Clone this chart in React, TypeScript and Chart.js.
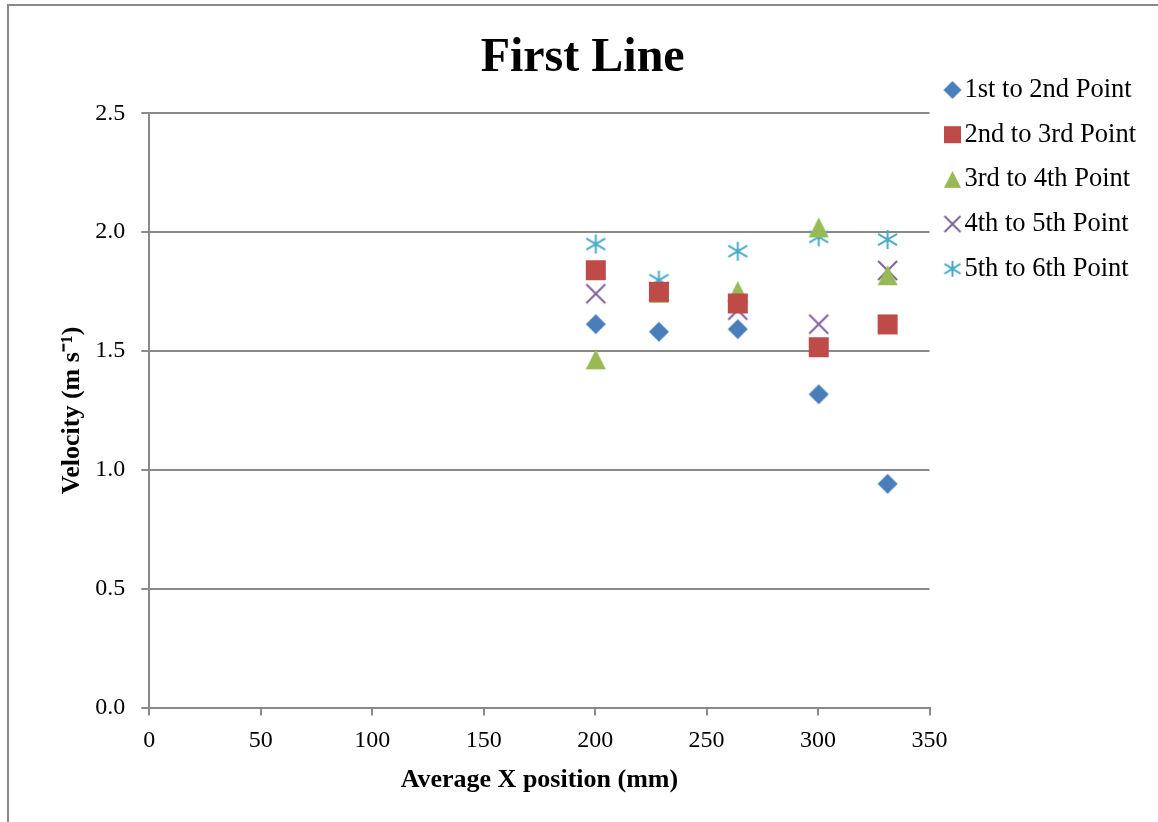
import React, { useEffect, useRef } from 'react';
import { Chart, registerables } from 'chart.js';

Chart.register(...registerables);

// ---- Data ----
const chartTitle = 'First Line';
const xAxisTitle = 'Average X position (mm)';
const yAxisTitle = 'Velocity (m s⁻¹)';

const xPositions = [200.3, 228.6, 264.0, 300.3, 331.2];
const seriesLabels = [
  '1st to 2nd Point',
  '2nd to 3rd Point',
  '3rd to 4th Point',
  '4th to 5th Point',
  '5th to 6th Point',
];
const firstToSecond = [1.613, 1.581, 1.592, 1.318, 0.941];
const secondToThird = [1.84, 1.749, 1.7, 1.516, 1.612];
const thirdToFourth = [1.465, 1.745, 1.752, 2.02, 1.819];
const fourthToFifth = [1.741, 1.75, 1.672, 1.613, 1.839];
const fifthToSixth = [1.95, 1.798, 1.92, 1.98, 1.969];

const xMin = 0;
const xMax = 350;
const xStep = 50;
const yMin = 0;
const yMax = 2.5;
const yStep = 0.5;

type Kind = 'diamond' | 'square' | 'triangle' | 'cross' | 'star';

function makeMarker(kind: Kind, size: number, color: string, shiftX = 0): HTMLCanvasElement {
  const pad = 2;
  const extra = Math.abs(shiftX) * 2;
  const c = document.createElement('canvas');
  c.width = Math.round(size + pad * 2 + extra);
  c.height = Math.round(size + pad * 2);
  const ctx = c.getContext('2d') as CanvasRenderingContext2D;
  const x0 = pad + (shiftX > 0 ? extra : 0);
  const y0 = pad;
  const cx = x0 + size / 2;
  const cy = y0 + size / 2;
  ctx.fillStyle = color;
  ctx.strokeStyle = color;
  ctx.lineWidth = 2;
  ctx.beginPath();
  switch (kind) {
    case 'diamond':
      ctx.moveTo(cx, y0);
      ctx.lineTo(x0 + size, cy);
      ctx.lineTo(cx, y0 + size);
      ctx.lineTo(x0, cy);
      ctx.closePath();
      ctx.fill();
      break;
    case 'square':
      ctx.rect(x0, y0, size, size);
      ctx.fill();
      break;
    case 'triangle':
      ctx.moveTo(cx, y0);
      ctx.lineTo(x0 + size, y0 + size);
      ctx.lineTo(x0, y0 + size);
      ctx.closePath();
      ctx.fill();
      break;
    case 'cross':
      ctx.moveTo(x0, y0);
      ctx.lineTo(x0 + size, y0 + size);
      ctx.moveTo(x0 + size, y0);
      ctx.lineTo(x0, y0 + size);
      ctx.stroke();
      break;
    case 'star':
      ctx.moveTo(cx, y0);
      ctx.lineTo(cx, y0 + size);
      ctx.moveTo(x0, y0 + size * 0.2);
      ctx.lineTo(x0 + size, y0 + size * 0.8);
      ctx.moveTo(x0 + size, y0 + size * 0.2);
      ctx.lineTo(x0, y0 + size * 0.8);
      ctx.stroke();
      break;
  }
  return c;
}

export default function App() {
  const ref = useRef<HTMLCanvasElement>(null);

  useEffect(() => {
    const canvas = ref.current;
    if (!canvas) return;
    const family = "'Liberation Serif', 'Times New Roman', serif";
    const gridColor = '#898989';
    const kinds: Kind[] = ['diamond', 'square', 'triangle', 'cross', 'star'];
    const colors = ['#4A7EBB', '#BE4B48', '#98B954', '#7D60A0', '#46AAC5'];
    const series = [firstToSecond, secondToThird, thirdToFourth, fourthToFifth, fifthToSixth];
    const pointSizes = [20, 20, 20, 19, 19];
    const legendSizes = [18, 17, 17, 16, 16];

    const datasets = series.map((vals, i) => ({
      label: seriesLabels[i],
      data: vals.map((v, j) => ({ x: xPositions[j], y: v })),
      pointStyle: makeMarker(kinds[i], pointSizes[i], colors[i]),
      backgroundColor: colors[i],
      borderColor: colors[i],
      showLine: false,
    }));
    const legendIcons = kinds.map((k, i) => makeMarker(k, legendSizes[i], colors[i], 3));

    const chart = new Chart(canvas, {
      type: 'scatter',
      data: { datasets },
      options: {
        responsive: false,
        animation: false,
        devicePixelRatio: 1,
        layout: { padding: { left: 10.3, right: 12, top: 0, bottom: 24.5 } },
        plugins: {
          tooltip: { enabled: false },
          title: {
            display: true,
            text: chartTitle,
            color: '#000',
            font: { family, size: 48, weight: 'bold', lineHeight: 0.001 },
            padding: { top: 53, bottom: 4.3 },
          },
          legend: {
            position: 'right',
            align: 'start',
            title: {
              display: true,
              text: '',
              font: { size: 1, lineHeight: 1 },
              padding: { top: 51.5, bottom: 0 },
            },
            labels: {
              usePointStyle: true,
              boxWidth: 3.5,
              boxHeight: 26.5,
              padding: 18.2,
              color: '#000',
              font: { family, size: 26.5 },
              generateLabels: (ch: any) => {
                const items = (Chart.defaults as any).plugins.legend.labels.generateLabels(ch);
                items.forEach((it: any, i: number) => {
                  it.pointStyle = legendIcons[i];
                });
                return items;
              },
            },
          },
        },
        scales: {
          x: {
            type: 'linear',
            position: 'bottom',
            min: xMin,
            max: xMax,
            ticks: {
              stepSize: xStep,
              color: '#000',
              font: { family, size: 24 },
              padding: 11.3,
              maxRotation: 0,
              autoSkip: false,
            },
            grid: {
              display: true,
              drawOnChartArea: false,
              drawTicks: true,
              tickLength: 8,
              color: gridColor,
              lineWidth: 2,
            },
            border: { display: true, color: gridColor, width: 2 },
            title: {
              display: true,
              text: xAxisTitle,
              color: '#000',
              font: { family, size: 26, weight: 'bold', lineHeight: 1.2 },
              padding: { top: -2.6, bottom: 2 },
            },
          },
          y: {
            type: 'linear',
            min: yMin,
            max: yMax,
            ticks: {
              stepSize: yStep,
              color: '#000',
              font: { family, size: 24 },
              padding: 16,
              callback: (v: any) => Number(v).toFixed(1),
            },
            grid: {
              display: true,
              drawOnChartArea: true,
              drawTicks: true,
              tickLength: 8,
              color: gridColor,
              lineWidth: 2,
            },
            border: { display: true, color: gridColor, width: 2 },
            title: {
              display: true,
              text: yAxisTitle,
              color: '#000',
              font: { family, size: 26, weight: 'bold', lineHeight: 1.2 },
              padding: { top: 37.1, bottom: -8.3 },
            },
          },
          x2: {
            type: 'linear',
            position: 'top',
            display: true,
            grid: { display: false, drawTicks: false },
            border: { display: false },
            ticks: { display: false },
            title: {
              display: true,
              text: '',
              font: { size: 1, lineHeight: 1 },
              padding: { top: 49, bottom: 0 },
            },
          },
        },
      } as any,
    });
    return () => chart.destroy();
  }, []);

  return (
    <div
      style={{
        position: 'absolute',
        left: 7,
        top: 4,
        width: 1151,
        height: 818,
        boxSizing: 'border-box',
        borderLeft: '2px solid #898989',
        borderTop: '2px solid #898989',
        background: '#fff',
      }}
    >
      <canvas ref={ref} width={1149} height={816} style={{ display: 'block', width: 1149, height: 816 }} />
    </div>
  );
}
